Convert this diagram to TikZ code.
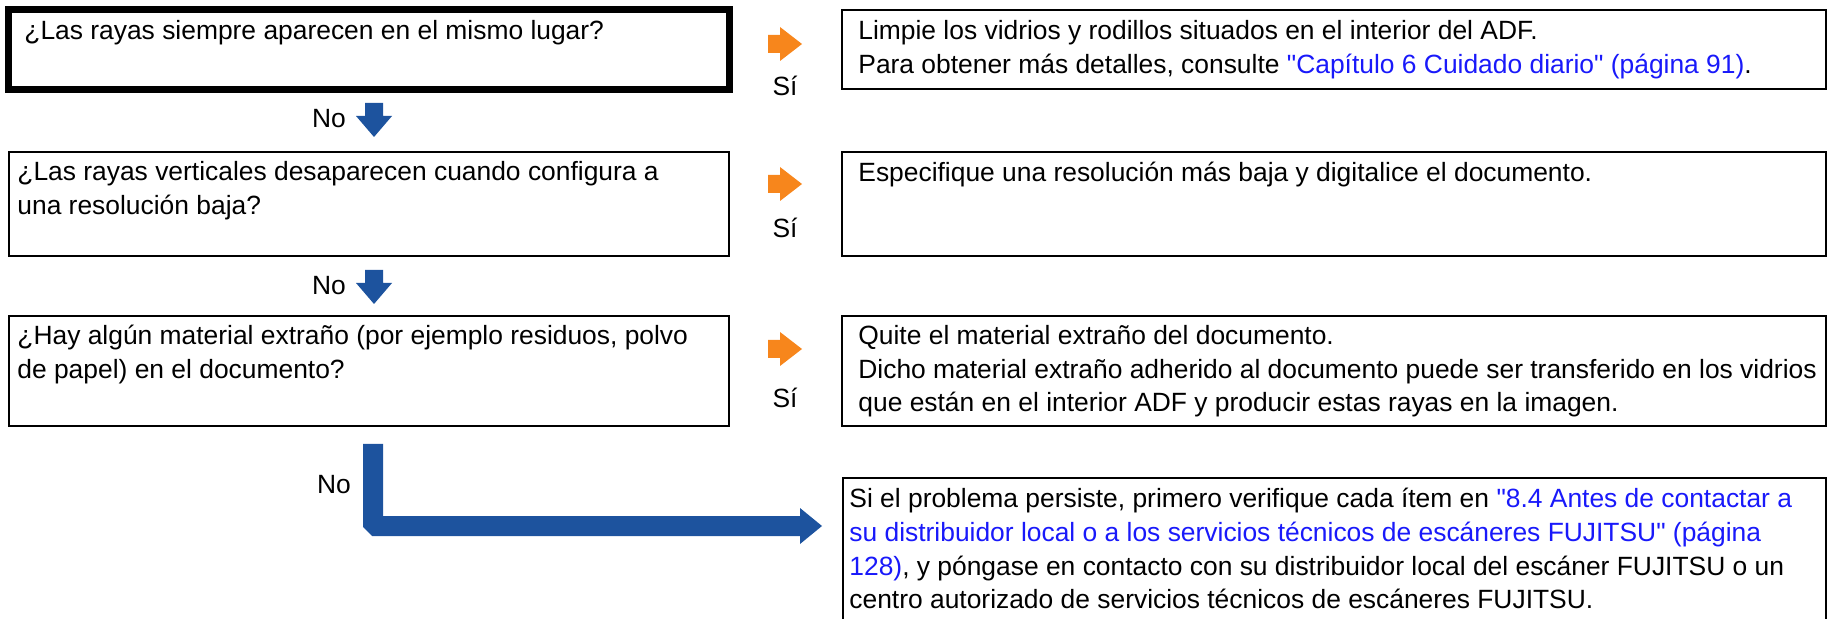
\documentclass[tikz,border=0pt]{standalone}
\usepackage{fontspec}
\setmainfont{Liberation Sans}[Ligatures=TeXOff]
\definecolor{siorange}{RGB}{247,134,28}
\definecolor{noblue}{RGB}{29,83,158}
\definecolor{linkblue}{RGB}{25,25,250}

\begin{document}
\begin{tikzpicture}[x=0.5pt,y=-0.5pt,
  font=\fontsize{13.2}{16.8}\selectfont,
  qbox/.style={draw,line width=1.3pt,anchor=north west,inner sep=0pt,outer sep=0pt,minimum width=360pt},
  abox/.style={draw,line width=1.3pt,anchor=north west,inner sep=0pt,outer sep=0pt,minimum width=492pt},
  txt/.style={anchor=north west,inner sep=0pt,align=left},
  lbl/.style={inner sep=0pt},
  sia/.style={fill=siorange},
  noa/.style={fill=noblue},
]
\useasboundingbox (0,0) rectangle (1829,619);

% ---------------- questions ----------------
\node[qbox,line width=3.5pt,minimum width=360.75pt,minimum height=40pt] (q1) at (8,9.5) {};
\node[qbox,minimum height=52pt] (q2) at (9,152) {};
\node[qbox,minimum height=55pt] (q3) at (9,316) {};
\node[txt] (q1t) at ([shift={(16,10)}]q1.north west) {¿Las rayas siempre aparecen en el mismo lugar?};
\node[txt] (q2t) at ([shift={(8,9)}]q2.north west)
  {¿Las rayas verticales desaparecen cuando configura a\\una resolución baja?};
\node[txt] (q3t) at ([shift={(8,9)}]q3.north west)
  {¿Hay algún material extraño (por ejemplo residuos, polvo\\de papel) en el documento?};

% ---------------- answers ----------------
\node[abox,minimum height=39.5pt] (a1) at (842,10) {};
\node[abox,minimum height=52pt] (a2) at (842,152) {};
\node[abox,minimum height=55pt] (a3) at (842,316) {};
\node[abox,minimum width=491.5pt,minimum height=75pt] (a4) at (843,478) {};
\node[txt] (a1t) at ([shift={(16,10)}]a1.north west)
  {Limpie los vidrios y rodillos situados en el interior del ADF.\\
   Para obtener más detalles, consulte \textcolor{linkblue}{"Capítulo 6 Cuidado diario" (página 91)}.};
\node[txt] (a2t) at ([shift={(16,10)}]a2.north west)
  {Especifique una resolución más baja y digitalice el documento.};
\node[txt] (a3t) at ([shift={(16,9)}]a3.north west)
  {Quite el material extraño del documento.\\
   Dicho material extraño adherido al documento puede ser transferido en los vidrios\\
   que están en el interior ADF y producir estas rayas en la imagen.};
\node[txt] (a4t) at ([shift={(6,10)}]a4.north west)
  {Si el problema persiste, primero verifique cada ítem en \textcolor{linkblue}{"8.4 Antes de contactar a}\\
   \textcolor{linkblue}{su distribuidor local o a los servicios técnicos de escáneres FUJITSU" (página}\\
   \textcolor{linkblue}{128)}, y póngase en contacto con su distribuidor local del escáner FUJITSU o un\\
   centro autorizado de servicios técnicos de escáneres FUJITSU.};

% ---------------- yes arrows ----------------
\coordinate (o1) at (768,44);
\coordinate (o2) at (768,184);
\coordinate (o3) at (768,349);
\fill[sia] ([shift={(0,-9)}]o1) -- ++(12,0) -- ++(0,-8) -- ++(22,17) -- ++(-22,17) -- ++(0,-8) -- ++(-12,0) -- cycle;
\fill[sia] ([shift={(0,-9)}]o2) -- ++(12,0) -- ++(0,-8) -- ++(22,17) -- ++(-22,17) -- ++(0,-8) -- ++(-12,0) -- cycle;
\fill[sia] ([shift={(0,-9)}]o3) -- ++(12,0) -- ++(0,-8) -- ++(22,17) -- ++(-22,17) -- ++(0,-8) -- ++(-12,0) -- cycle;
\node[lbl] (si1) at (785,86) {Sí};
\node[lbl] (si2) at (785,228) {Sí};
\node[lbl] (si3) at (785,398) {Sí};

% ---------------- no arrows ----------------
\coordinate (d1) at (374,103);
\coordinate (d2) at (374,270);
\fill[noa] ([shift={(-9,0)}]d1) -- ++(18,0) -- ++(0,13) -- ++(9,0) -- ++(-18,21) -- ++(-18,-21) -- ++(9,0) -- cycle;
\fill[noa] ([shift={(-9,0)}]d2) -- ++(18,0) -- ++(0,13) -- ++(9,0) -- ++(-18,21) -- ++(-18,-21) -- ++(9,0) -- cycle;
\node[lbl] (no1) at (329,119) {No};
\node[lbl] (no2) at (329,286) {No};

% L-shaped arrow down to the last box
\coordinate (lt) at (373,444);
\fill[noa] ([shift={(-10,0)}]lt) -- ++(20,0) -- ++(0,72) -- ++(417,0) -- ++(0,-8) -- ++(22,18)
  -- ++(-22,18) -- ++(0,-8) -- ++(-428,0) -- ++(-9,-9) -- cycle;
\node[lbl] (no3) at (334,485) {No};
\end{tikzpicture}
\end{document}
